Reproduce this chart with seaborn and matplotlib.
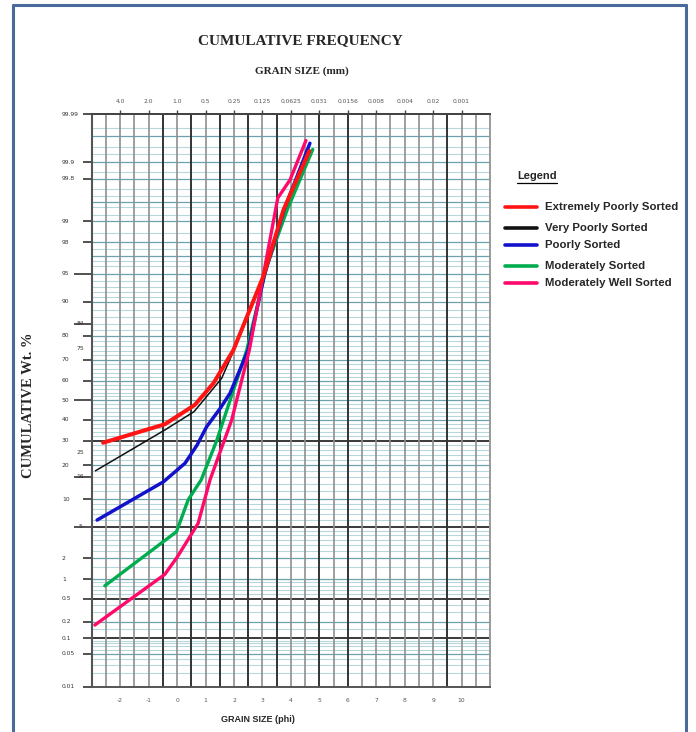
import numpy as np
import pandas as pd
import matplotlib
matplotlib.use("Agg")
import matplotlib.pyplot as plt
import seaborn as sns
from matplotlib.lines import Line2D
from matplotlib.ticker import FixedLocator, NullFormatter
from statistics import NormalDist

# ---------------- data ----------------
series_names = ["Extremely Poorly Sorted", "Very Poorly Sorted", "Poorly Sorted",
                "Moderately Sorted", "Moderately Well Sorted"]

phi_extremely = [-2.60, -0.43, 0.62, 1.28, 1.98, 3.03, 3.74, 4.65]
pct_extremely = [29.1, 37.8, 47.6, 58.8, 74.3, 94.6, 99.33, 99.94]

phi_very = [-2.87, -0.43, 0.60, 1.57, 1.98, 3.03, 3.74, 4.65]
pct_very = [18.0, 35.0, 44.2, 61.3, 73.8, 94.6, 99.33, 99.94]

phi_poorly = [-2.81, -0.48, 0.28, 0.70, 1.04, 1.50, 1.86, 2.50, 3.06, 3.76, 4.67]
pct_poorly = [6.0, 14.5, 20.7, 28.0, 36.6, 45.5, 53.6, 74.3, 94.7, 99.33, 99.958]

phi_moderately = [-2.54, -0.02, 0.39, 0.85, 1.40, 2.45, 3.15, 3.87, 4.77]
pct_moderately = [0.80, 4.4, 9.8, 15.1, 30.3, 74.3, 95.9, 99.33, 99.944]

phi_mod_well = [-2.89, -0.43, 0.01, 0.74, 1.16, 1.92, 2.54, 3.54, 3.97, 4.53]
pct_mod_well = [0.176, 1.19, 2.1, 5.5, 15.1, 39.9, 74.3, 99.57, 99.79, 99.963]

y_tick_values = [99.99, 99.9, 99.8, 99, 98, 95, 90, 84, 80, 75, 70, 60, 50, 40,
                 30, 25, 20, 16, 10, 5, 2, 1, 0.5, 0.2, 0.1, 0.05, 0.01]
y_tick_labels = ["99.99", "99.9", "99.8", "99", "98", "95", "90", "84", "80", "75",
                 "70", "60", "50", "40", "30", "25", "20", "16", "10", "5", "2",
                 "1", "0.5", "0.2", "0.1", "0.05", "0.01"]
phi_ticks = [-2, -1, 0, 1, 2, 3, 4, 5, 6, 7, 8, 9, 10]
phi_tick_labels = ["-2", "-1", "0", "1", "2", "3", "4", "5", "6", "7", "8", "9", "10"]
mm_tick_labels = ["4.0", "2.0", "1.0", "0.5", "0.25", "0.125", "0.0625", "0.031",
                  "0.0156", "0.008", "0.004", "0.02", "0.001"]

colors = {"Extremely Poorly Sorted": "#ff1414",
          "Very Poorly Sorted": "#111111",
          "Poorly Sorted": "#1212cc",
          "Moderately Sorted": "#00ad4e",
          "Moderately Well Sorted": "#ff0a6a"}
widths = {"Extremely Poorly Sorted": 2.9, "Very Poorly Sorted": 1.1,
          "Poorly Sorted": 2.5, "Moderately Sorted": 2.4, "Moderately Well Sorted": 2.4}

frames = []
for name, xs, ys in zip(series_names,
                        [phi_extremely, phi_very, phi_poorly, phi_moderately, phi_mod_well],
                        [pct_extremely, pct_very, pct_poorly, pct_moderately, pct_mod_well]):
    frames.append(pd.DataFrame({"phi": xs, "pct": ys, "series": name}))
df = pd.concat(frames, ignore_index=True)

# ---------------- probability (probit) scale ----------------
_nd = NormalDist()
_ppf = np.vectorize(lambda v: _nd.inv_cdf(v), otypes=[float])
_cdf = np.vectorize(lambda v: _nd.cdf(v), otypes=[float])

def prob_fwd(p):
    p = np.clip(np.asarray(p, dtype=float), 1e-9, 100 - 1e-9)
    return _ppf(p / 100.0)

def prob_inv(z):
    return _cdf(np.asarray(z, dtype=float)) * 100.0

sns.set_theme(style="white")
plt.rcParams["font.family"] = ["DejaVu Sans"]

W, H = 696, 732
fig = plt.figure(figsize=(W / 100, H / 100), dpi=100)
ax_l, ax_r, ax_t, ax_b = 91.7, 490.0, 114.0, 686.7
ax = fig.add_axes([ax_l / W, 1 - ax_b / H, (ax_r - ax_l) / W, (ax_b - ax_t) / H])
ax.set_yscale("function", functions=(prob_fwd, prob_inv))

# ---------------- probability-paper grid ----------------
light_h = [0.02, 0.03, 0.04, 0.06, 0.07, 0.08, 0.09, 0.15, 0.3, 0.4, 0.6, 0.7, 0.8, 0.9,
           1.5, 2.5, 3, 3.5, 4, 4.5, 6, 7, 8, 9, 12, 14, 16, 18, 22, 24, 26, 28, 32, 34,
           36, 38, 42, 44, 46, 48, 52, 54, 56, 58, 62, 64, 66, 68, 72, 74, 76, 78, 82,
           84, 86, 88, 91, 92, 93, 94, 96, 96.5, 97.5, 98.5, 99.2, 99.4, 99.6, 99.7,
           99.85, 99.93, 99.95, 99.98]
dark_h = [0.05, 0.2, 1, 2, 10, 20, 40, 50, 60, 70, 80, 90, 95, 97, 98, 99, 99.5, 99.8,
          99.9, 99.97]
black_h = [0.1, 0.5, 5, 30]
for v in light_h:
    ax.axhline(v, color="#b6d7dc", lw=0.8, zorder=1)
for v in dark_h:
    ax.axhline(v, color="#6aa3ad", lw=0.9, zorder=1.2)
for v in black_h:
    ax.axhline(v, color="#2a2a2a", lw=1.3, zorder=1.5)

dark_v = {-0.5, 0.5, 1.5, 2.5, 3.5, 5.0, 6.0, 9.5}
for v in np.arange(-2.5, 11.0, 0.5):
    if v in dark_v:
        ax.axvline(v, color="#333333", lw=1.4, zorder=1.6)
    else:
        ax.axvline(v, color="#8f8f8f", lw=1.2, zorder=1.6)

# ---------------- curves ----------------
draw_order = ["Very Poorly Sorted", "Moderately Sorted", "Poorly Sorted",
              "Moderately Well Sorted", "Extremely Poorly Sorted"]
for k, name in enumerate(draw_order):
    sub = df[df["series"] == name]
    sns.lineplot(data=sub, x="phi", y="pct", sort=False, estimator=None,
                 color=colors[name], lw=widths[name], ax=ax, legend=False,
                 zorder=3 + k)

ax.set_xlim(-3, 11)
ax.set_ylim(0.01, 99.99)
ax.set_xlabel("")
ax.set_ylabel("")

# y ticks (long ones for the Folk & Ward percentiles)
long_ticks = [95, 84, 50, 16, 5]
short_ticks = [v for v in y_tick_values if v not in (95, 84, 50, 16, 5, 75, 25)]
ax.yaxis.set_major_locator(FixedLocator(long_ticks))
ax.yaxis.set_minor_locator(FixedLocator(short_ticks))
ax.yaxis.set_major_formatter(NullFormatter())
ax.yaxis.set_minor_formatter(NullFormatter())
ax.tick_params(axis="y", which="major", left=True, length=12.7, width=1.2, color="#333333")
ax.tick_params(axis="y", which="minor", left=True, length=6.3, width=1.2, color="#333333")
ytr = ax.get_yaxis_transform()
for v, lab in zip(y_tick_values, y_tick_labels):
    xpos = -0.0377 if lab in ("84", "75", "25", "16") else (-0.032 if lab == "5" else -0.0746)
    ax.text(xpos, v, lab, transform=ytr, ha="left", va="center", fontsize=4.3,
            color="#333333")

# bottom phi ticks
ax.set_xticks(phi_ticks, labels=phi_tick_labels)
ax.tick_params(axis="x", which="both", bottom=True, length=0, pad=8, labelsize=4.3,
               labelcolor="#555555")
ax.xaxis.set_minor_locator(FixedLocator([]))

# top mm ticks
sec = ax.secondary_xaxis("top")
sec.set_xticks(phi_ticks, labels=mm_tick_labels)
sec.tick_params(axis="x", length=3, width=1, color="#444444", pad=4, labelsize=4.3,
                labelcolor="#555555")
sec.spines["top"].set_color("#444444")
sec.spines["top"].set_linewidth(1.4)

for side, c, lw in [("left", "#555555", 1.5), ("bottom", "#555555", 1.4),
                    ("top", "#444444", 1.4), ("right", "#9a9a9a", 1.4)]:
    ax.spines[side].set_color(c)
    ax.spines[side].set_linewidth(lw)
    ax.spines[side].set_visible(True)

# ---------------- texts ----------------
serif = ["Liberation Serif", "DejaVu Serif"]
sans = ["Liberation Sans", "DejaVu Sans"]
fig.text(300 / W, 1 - 41 / H, "CUMULATIVE FREQUENCY", ha="center", va="center",
         fontsize=11, fontweight="bold", family=serif)
fig.text(302 / W, 1 - 71 / H, "GRAIN SIZE (mm)", ha="center", va="center",
         fontsize=8, fontweight="bold", family=serif)
fig.text(29 / W, 1 - 405 / H, "CUMULATIVE Wt. %", ha="center", va="center",
         rotation=90, fontsize=10.5, fontweight="bold", family=serif)
fig.text(258 / W, 1 - 719 / H, "GRAIN SIZE (phi)", ha="center", va="center",
         fontsize=6.5, fontweight="bold", family=sans)

# ---------------- legend ----------------
fig.text(537 / W, 1 - 176 / H, "Legend", ha="center", va="center", fontsize=8,
         fontweight="bold", family=sans)
fig.add_artist(Line2D([517 / W, 557 / W], [1 - 182.5 / H, 1 - 182.5 / H],
                      color="black", lw=0.9, transform=fig.transFigure))
legend_y = [206.7, 228.3, 245.0, 266.0, 282.7]
for name, yy in zip(series_names, legend_y):
    fig.add_artist(Line2D([505 / W, 537 / W], [1 - yy / H, 1 - yy / H],
                          color=colors[name], lw=2.6, transform=fig.transFigure))
    fig.text(545 / W, 1 - yy / H, name, ha="left", va="center", fontsize=8.2,
             fontweight="bold", family=sans)

# ---------------- page border ----------------
bc = "#4a6a9c"
fig.add_artist(Line2D([13 / W, 13 / W], [0, 1 - 5 / H], color=bc, lw=2.2,
                      transform=fig.transFigure))
fig.add_artist(Line2D([13 / W, 686 / W], [1 - 5 / H, 1 - 5 / H], color=bc, lw=2.2,
                      transform=fig.transFigure))
fig.add_artist(Line2D([686 / W, 686 / W], [0, 1 - 5 / H], color=bc, lw=2.2,
                      transform=fig.transFigure))

fig.savefig("out.png", dpi=100)
